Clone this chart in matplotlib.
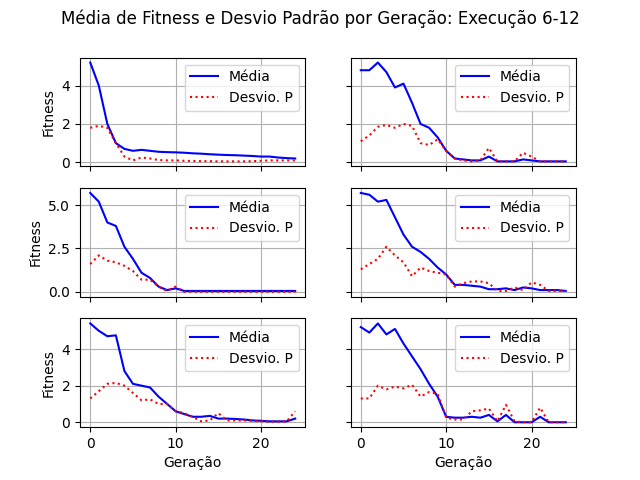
import matplotlib
matplotlib.use("Agg")
import matplotlib.pyplot as plt

geracoes = list(range(25))

media = [
    [5.2, 4.0, 2.0, 1.0, 0.7, 0.6, 0.65, 0.6, 0.55, 0.53, 0.52, 0.5, 0.47, 0.45, 0.42, 0.4, 0.38, 0.37, 0.35, 0.33, 0.3, 0.3, 0.25, 0.22, 0.2],
    [4.8, 4.8, 5.2, 4.7, 3.9, 4.1, 3.1, 2.0, 1.8, 1.3, 0.6, 0.2, 0.15, 0.1, 0.1, 0.3, 0.05, 0.05, 0.05, 0.15, 0.1, 0.05, 0.05, 0.05, 0.05],
    [5.7, 5.2, 4.0, 3.8, 2.6, 1.9, 1.1, 0.8, 0.3, 0.1, 0.2, 0.05, 0.05, 0.05, 0.05, 0.05, 0.05, 0.05, 0.05, 0.05, 0.05, 0.05, 0.05, 0.05, 0.05],
    [5.7, 5.6, 5.2, 5.3, 4.3, 3.3, 2.6, 2.3, 1.9, 1.4, 1.0, 0.4, 0.4, 0.35, 0.3, 0.15, 0.15, 0.2, 0.1, 0.25, 0.2, 0.1, 0.1, 0.1, 0.05],
    [5.4, 5.0, 4.7, 4.75, 2.8, 2.1, 2.0, 1.9, 1.4, 1.0, 0.6, 0.45, 0.3, 0.3, 0.35, 0.2, 0.2, 0.18, 0.15, 0.1, 0.08, 0.05, 0.05, 0.05, 0.2],
    [5.2, 4.9, 5.4, 4.8, 5.1, 4.3, 3.6, 2.9, 2.1, 1.4, 0.3, 0.25, 0.25, 0.3, 0.25, 0.4, 0.05, 0.4, 0.0, 0.0, 0.0, 0.3, 0.0, 0.0, 0.0],
]

desvio = [
    [1.8, 1.9, 1.8, 1.0, 0.3, 0.1, 0.25, 0.2, 0.12, 0.1, 0.1, 0.08, 0.07, 0.06, 0.06, 0.05, 0.05, 0.05, 0.05, 0.06, 0.08, 0.1, 0.1, 0.1, 0.1],
    [1.1, 1.4, 1.85, 1.95, 1.8, 2.0, 1.9, 1.0, 0.9, 1.2, 0.6, 0.2, 0.1, 0.05, 0.1, 0.75, 0.05, 0.05, 0.05, 0.5, 0.3, 0.05, 0.05, 0.05, 0.05],
    [1.6, 2.1, 1.8, 1.7, 1.5, 1.2, 0.7, 0.7, 0.3, 0.05, 0.3, 0.0, 0.0, 0.0, 0.0, 0.0, 0.0, 0.0, 0.0, 0.0, 0.0, 0.0, 0.0, 0.0, 0.0],
    [1.3, 1.6, 1.9, 2.6, 2.1, 1.7, 0.9, 1.4, 1.2, 1.1, 1.0, 0.3, 0.5, 0.6, 0.6, 0.5, 0.05, 0.05, 0.25, 0.1, 0.55, 0.4, 0.05, 0.05, 0.05],
    [1.3, 1.7, 2.1, 2.15, 2.0, 1.6, 1.2, 1.25, 1.0, 1.0, 0.6, 0.5, 0.3, 0.05, 0.1, 0.5, 0.1, 0.1, 0.1, 0.07, 0.05, 0.03, 0.03, 0.05, 0.6],
    [1.3, 1.3, 2.0, 1.8, 1.95, 1.85, 2.05, 1.4, 1.65, 1.55, 0.25, 0.15, 0.15, 0.6, 0.65, 0.75, 0.05, 0.95, 0.05, 0.0, 0.0, 0.8, 0.0, 0.0, 0.0],
]

fig, axes = plt.subplots(3, 2, sharex=True, sharey='row', figsize=(6.4, 4.8))
fig.suptitle("Média de Fitness e Desvio Padrão por Geração: Execução 6-12", fontsize=12)

for i, ax in enumerate(axes.flat):
    ax.plot(geracoes, media[i], color='blue', label='Média')
    ax.plot(geracoes, desvio[i], color='red', linestyle=':', label='Desvio. P')
    ax.grid(True)
    ax.legend(loc='upper right')
    if i % 2 == 0:
        ax.set_ylabel("Fitness")
    if i >= 4:
        ax.set_xlabel("Geração")

plt.savefig("out.png", dpi=100)
